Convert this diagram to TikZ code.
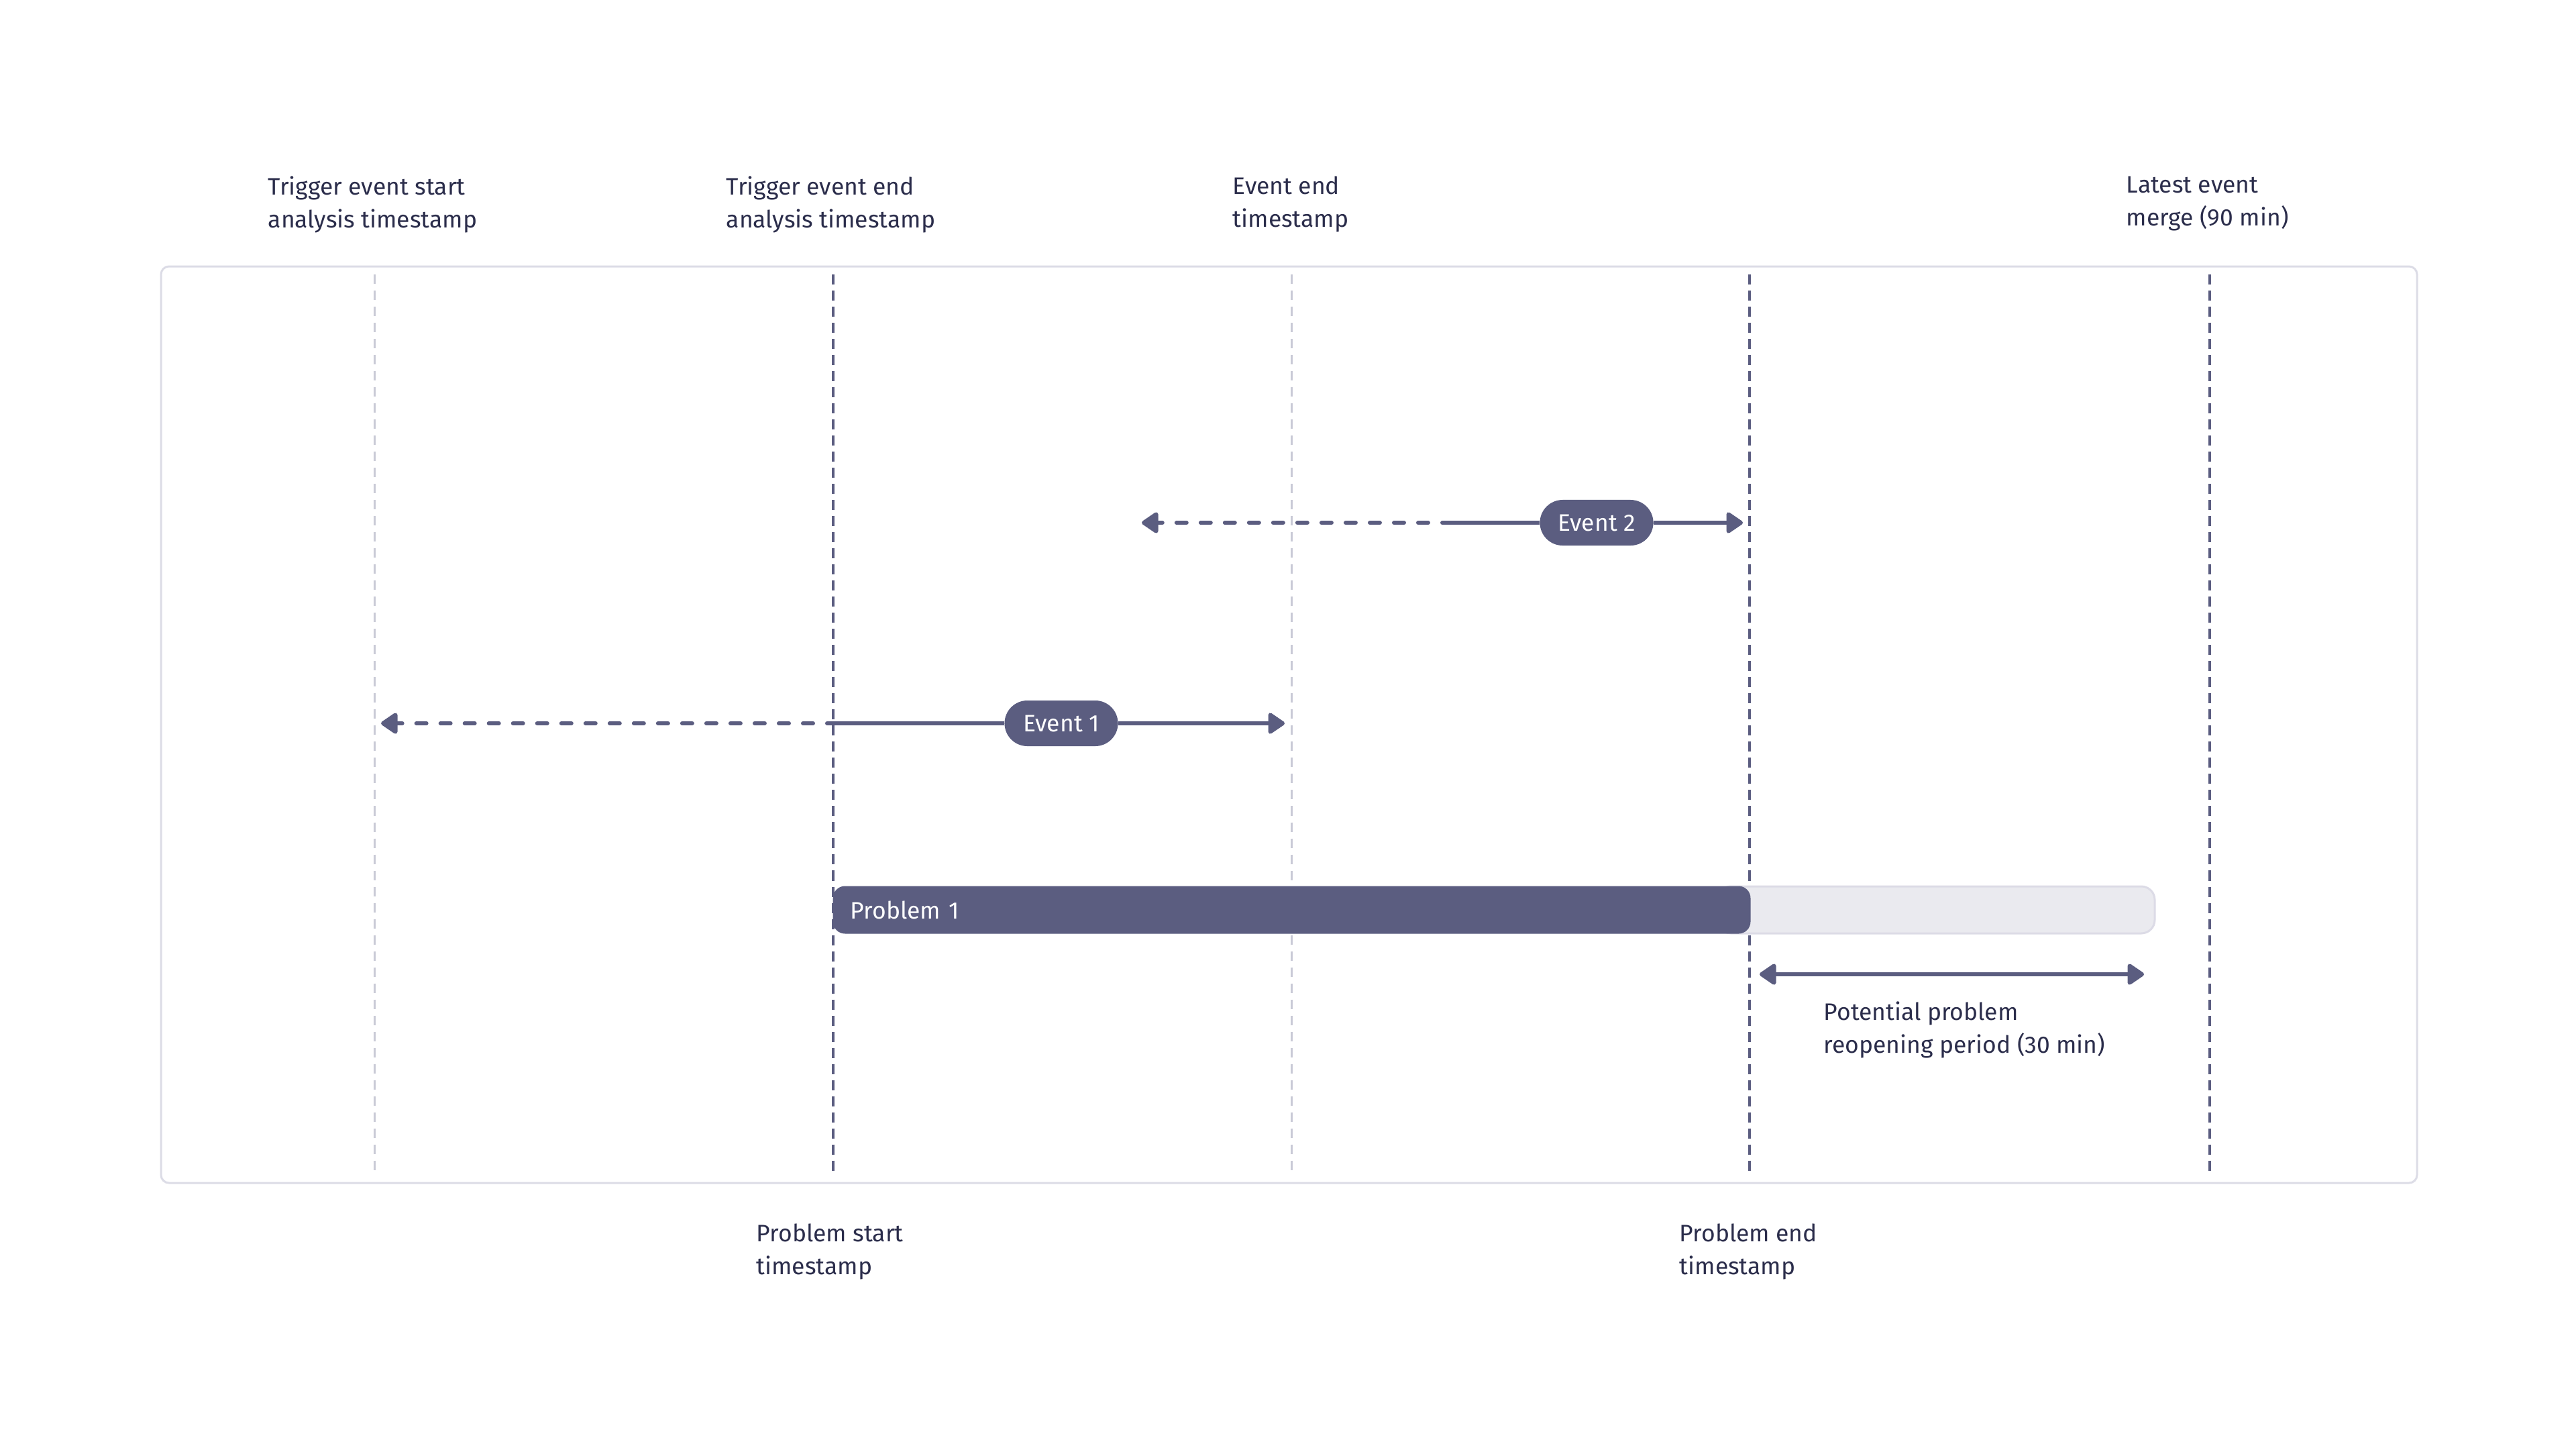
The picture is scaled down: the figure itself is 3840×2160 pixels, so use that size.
\documentclass[tikz,border=0pt]{standalone}
\usepackage{fontspec}
\setmainfont{Fira Sans}
\usepackage{xcolor}
\usepackage{tikz}
\usetikzlibrary{arrows.meta, positioning, calc}
\definecolor{eventpurple}{RGB}{91, 93, 128}
\definecolor{textnavy}{RGB}{43, 45, 75}
\definecolor{guidegray}{RGB}{201, 202, 214}
\definecolor{framegray}{RGB}{220, 220, 230}
\definecolor{reopenfill}{RGB}{234, 234, 239}
\definecolor{reopenline}{RGB}{220, 219, 230}
\tikzstyle{lbl} = [anchor=north west, inner sep=0pt, align=left, text=textnavy, font=\fontsize{10.1pt}{13.9pt}\selectfont]
\tikzstyle{eventtag} = [fill=eventpurple, text=white, rounded corners=0.34cm, minimum width=1.69cm, minimum height=0.68cm, inner sep=0pt, font=\fontsize{10.1pt}{13.9pt}\selectfont]
\tikzstyle{tl} = [line width=0.06cm, draw=eventpurple, -{Triangle[length=0.27cm, width=0.35cm, round]}]
\tikzstyle{tldash} = [line width=0.06cm, draw=eventpurple, line cap=round, dash pattern=on 0.15cm off 0.21cm]
\tikzstyle{guide} = [line width=0.03cm, draw=guidegray, dash pattern=on 0.14cm off 0.10cm]
\tikzstyle{markline} = [line width=0.04cm, draw=eventpurple, dash pattern=on 0.15cm off 0.09cm]

\begin{document}
\begin{tikzpicture}[x=0.01cm, y=-0.01cm]
    \useasboundingbox (0,0) rectangle (3840,2160);

    % Frame
    \draw[framegray, line width=0.03cm, rounded corners=0.12cm] (240,397) rectangle (3603,1763);

    % Timestamps
    \foreach \x in {558, 1925}
        \draw[guide] (\x,409) -- (\x,1753);
    \foreach \x in {1242, 2608, 3294}
        \draw[markline] (\x,409) -- (\x,1753);

    % Top labels
    \node[lbl] (trigstart) at (399,262) {Trigger event start\\analysis timestamp};
    \node[lbl] (trigend) at (1082,262) {Trigger event end\\analysis timestamp};
    \node[lbl] (evend) at (1837,262) {Event end\\timestamp};
    \node[lbl] (latest) at (3169,262) {Latest event\\merge (90 min)};

    % Event 2
    \node[eventtag] (ev2) at (2380,779) {Event 2};
    \coordinate (ev2from) at (1702,779);
    \coordinate (ev2mid) at (2165,779);
    \coordinate (ev2to) at (2598,779);
    \draw[tldash] (ev2mid) -- ($(ev2from)+(22,0)$);
    \draw[tl] ($(ev2from)+(28,0)$) -- (ev2from);
    \draw[line width=0.06cm, eventpurple] (ev2mid) -- (ev2);
    \draw[tl] (ev2) -- (ev2to);

    % Event 1
    \node[eventtag] (ev1) at (1582,1078) {Event 1};
    \coordinate (ev1from) at (568,1078);
    \coordinate (ev1mid) at (1248,1078);
    \coordinate (ev1to) at (1915,1078);
    \draw[tldash] (ev1mid) -- ($(ev1from)+(22,0)$);
    \draw[tl] ($(ev1from)+(28,0)$) -- (ev1from);
    \draw[line width=0.06cm, eventpurple] (ev1mid) -- (ev1);
    \draw[tl] (ev1) -- (ev1to);

    % Problem 1
    \draw[reopenline, fill=reopenfill, line width=0.03cm, rounded corners=0.2cm] (2560,1321) rectangle (3212,1391);
    \node[fill=eventpurple, text=white, rounded corners=0.18cm, anchor=west, minimum width=13.67cm, minimum height=0.71cm, inner xsep=0.26cm, inner ysep=0pt, text width=13.15cm, align=left, font=\fontsize{10.1pt}{13.9pt}\selectfont] (prob) at (1241,1356) {Problem 1};

    % Reopening period
    \coordinate (reopenfrom) at (2623,1452);
    \coordinate (reopento) at (3196,1452);
    \draw[tl, {Triangle[length=0.27cm, width=0.35cm, round]}-{Triangle[length=0.27cm, width=0.35cm, round]}] (reopenfrom) -- (reopento);
    \node[lbl] (reopen) at (2718,1492) {Potential problem\\reopening period (30 min)};

    % Bottom labels
    \node[lbl] (probstart) at (1127,1823) {Problem start\\timestamp};
    \node[lbl] (probend) at (2503,1823) {Problem end\\timestamp};
\end{tikzpicture}
\end{document}
